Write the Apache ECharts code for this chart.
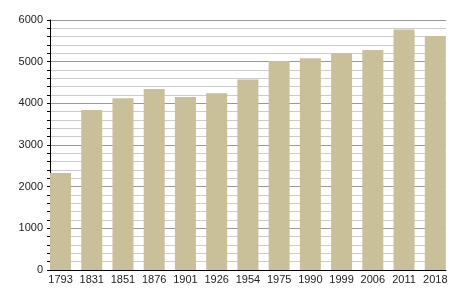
<!DOCTYPE html>
<html><head><meta charset="utf-8">
<script src="https://cdn.jsdelivr.net/npm/echarts@6/dist/echarts.min.js"></script>
<style>html,body{margin:0;padding:0;background:#fff}#c{width:455px;height:300px}</style>
</head><body><div id="c"></div>
<script>
const years = ['1793','1831','1851','1876','1901','1926','1954','1975','1990','1999','2006','2011','2018'];
const population = [2330, 3840, 4120, 4345, 4150, 4240, 4570, 5015, 5085, 5210, 5280, 5775, 5615];
const yMin = 0, yMax = 6000, yStep = 1000;

const chart = echarts.init(document.getElementById('c'), null, {renderer:'canvas'});
const font = {fontFamily:'Liberation Sans, Arial, sans-serif', fontSize:11, color:'#222'};
chart.setOption({
  animation:false,
  backgroundColor:'#fff',
  grid:[
    {left:50, right:9, top:20, bottom:30},
    {left:44.9, right:4.1, top:20, bottom:30}
  ],
  xAxis:[
    {gridIndex:0, type:'value', min:0, max:1, axisLine:{show:true,onZero:false,lineStyle:{color:'#000',width:1}},
     axisTick:{show:false}, axisLabel:{show:false}, splitLine:{show:false}},
    {gridIndex:1, type:'category', data:years, boundaryGap:true,
     axisLine:{show:false}, axisTick:{show:false},
     axisLabel:Object.assign({margin:4, interval:0, hideOverlap:false}, font), splitLine:{show:false}}
  ],
  yAxis:[
    {gridIndex:0, type:'value', min:yMin, max:yMax, interval:yStep,
     axisLine:{show:true, lineStyle:{color:'#000',width:1}},
     axisTick:{show:true, length:3, lineStyle:{color:'#000'}},
     minorTick:{show:true, splitNumber:5, length:3, lineStyle:{color:'#000'}},
     axisLabel:Object.assign({margin:7, formatter:function(v){return String(v);}}, font),
     splitLine:{show:true, lineStyle:{color:'#999',width:1}},
     minorSplitLine:{show:true, lineStyle:{color:'#ccc',width:1}}},
    {gridIndex:1, type:'value', min:yMin, max:yMax, interval:yStep, show:false, splitLine:{show:false}}
  ],
  series:[{
    type:'bar', xAxisIndex:1, yAxisIndex:1, data:population, barWidth:21,
    itemStyle:{color:'#c9bf98'}, z:3
  }]
});
</script></body></html>
